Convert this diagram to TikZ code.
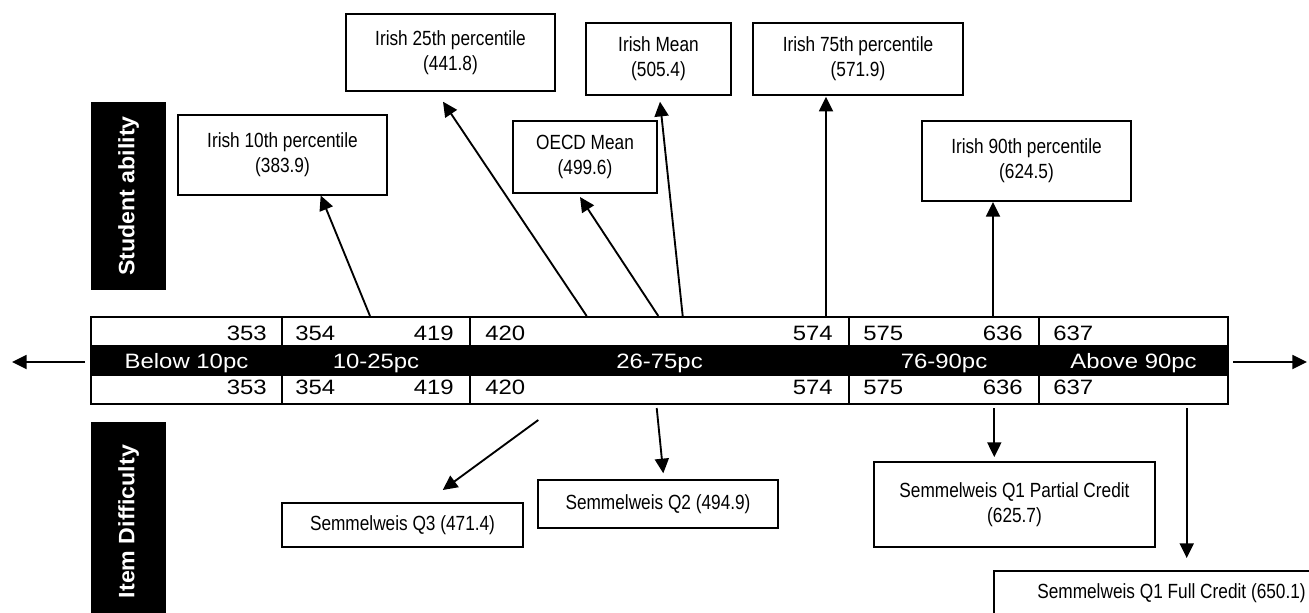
\documentclass[tikz,border=0pt]{standalone}
\usepackage{fontspec}
\setmainfont{Liberation Sans}
\newfontfamily\bandfont[FakeStretch=1.15]{Liberation Sans}
\newfontfamily\boxfont[FakeStretch=0.84]{Liberation Sans}
\newfontfamily\sidefont[FakeStretch=1.04]{Liberation Sans}
\usetikzlibrary{arrows.meta}
\begin{document}
\begin{tikzpicture}[x=0.75pt,y=-0.75pt,
  box/.style={draw, line width=1.4pt, inner sep=0pt, align=center,
    font=\boxfont\fontsize{15.4pt}{18.5pt}\selectfont},
  boxtext/.style={inner sep=0pt, align=center, anchor=base,
    font=\boxfont\fontsize{15.4pt}{18.5pt}\selectfont},
  num/.style={inner sep=0pt, font=\bandfont\fontsize{15.6pt}{18pt}\selectfont},
  lab/.style={inner sep=0pt, anchor=base, text=white,
    font=\bandfont\fontsize{15.6pt}{18pt}\selectfont},
  side/.style={fill=black, inner sep=0pt, text=white, rotate=90,
    font=\sidefont\bfseries\fontsize{16.7pt}{20pt}\selectfont},
  arr/.style={line width=1.4pt, -{Triangle[length=11pt,width=10.5pt]}},
  frame/.style={line width=1.6pt}]
\clip (0,0) rectangle (1309,612);
\fill[white] (0,0) rectangle (1309,612);

% side labels
\node[side, minimum width=141pt, minimum height=56.25pt] (sa) at (128.5,196) {Student ability};
\node[side, minimum width=149.25pt, minimum height=56.25pt] (id) at (128.5,521.5) {Item Difficulty};

% band
\fill[black] (91,345) rectangle (1228,376);
\draw[frame] (91,317) rectangle (1228,404);
\foreach \xx in {282,470,849,1039} {
  \draw[frame] (\xx,317) -- (\xx,345);
  \draw[frame] (\xx,376) -- (\xx,404);
}
% top row numbers
\node[num, anchor=base east] (t353) at (267,340.7) {353};
\node[num, anchor=base west] (t354) at (295,340.7) {354};
\node[num, anchor=base east] (t419) at (454,340.7) {419};
\node[num, anchor=base west] (t420) at (485,340.7) {420};
\node[num, anchor=base east] (t574) at (833,340.7) {574};
\node[num, anchor=base west] (t575) at (863,340.7) {575};
\node[num, anchor=base east] (t636) at (1023,340.7) {636};
\node[num, anchor=base west] (t637) at (1053,340.7) {637};
% bottom row numbers
\node[num, anchor=base east] (b353) at (267,394) {353};
\node[num, anchor=base west] (b354) at (295,394) {354};
\node[num, anchor=base east] (b419) at (454,394) {419};
\node[num, anchor=base west] (b420) at (485,394) {420};
\node[num, anchor=base east] (b574) at (833,394) {574};
\node[num, anchor=base west] (b575) at (863,394) {575};
\node[num, anchor=base east] (b636) at (1023,394) {636};
\node[num, anchor=base west] (b637) at (1053,394) {637};
% band labels
\node[lab] (l1) at (186.5,368) {Below 10pc};
\node[lab] (l2) at (376,368) {10-25pc};
\node[lab] (l3) at (659.5,368) {26-75pc};
\node[lab] (l4) at (944,368) {76-90pc};
\node[lab] (l5) at (1133.5,368) {Above 90pc};

% side arrows
\coordinate (la1) at (85,362); \coordinate (la2) at (12,362);
\coordinate (ra1) at (1233,362); \coordinate (ra2) at (1307,362);
\draw[arr] (la1) -- (la2);
\draw[arr] (ra1) -- (ra2);

% upper boxes
\node[box, minimum width=156.75pt, minimum height=60pt] (n10) at (282.5,155) {Irish 10th percentile\\(383.9)};
\node[box, minimum width=156.75pt, minimum height=57.75pt] (n25) at (450.5,52.5) {Irish 25th percentile\\(441.8)};
\node[box, minimum width=108.75pt, minimum height=54pt] (nmean) at (658.5,59) {Irish Mean\\(505.4)};
\node[box, minimum width=157.5pt, minimum height=54pt] (n75) at (858,59) {Irish 75th percentile\\(571.9)};
\node[box, minimum width=156.75pt, minimum height=60pt] (n90) at (1026.5,161) {Irish 90th percentile\\(624.5)};
\node[box, minimum width=108pt, minimum height=54pt] (noecd) at (585,157) {OECD Mean\\(499.6)};

% upper arrows
\coordinate (s10) at (370,316);   \coordinate (e10) at (320.7,195.5);
\coordinate (s25) at (586.7,316); \coordinate (e25) at (443,101.7);
\coordinate (so) at (658.3,316);  \coordinate (eo) at (580,197);
\coordinate (sm) at (682.7,316);  \coordinate (em) at (660,101.7);
\coordinate (s75) at (826,316);   \coordinate (e75) at (826,96.7);
\coordinate (s90) at (993,316);   \coordinate (e90) at (993,202);
\draw[arr] (s10) -- (e10);
\draw[arr] (s25) -- (e25);
\draw[arr] (so) -- (eo);
\draw[arr] (sm) -- (em);
\draw[arr] (s75) -- (e75);
\draw[arr] (s90) -- (e90);

% lower boxes
\node[box, minimum width=180.75pt, minimum height=33pt] (q3) at (402.5,525) {Semmelweis Q3 (471.4)};
\node[box, minimum width=180pt, minimum height=36pt] (q2) at (658,504) {Semmelweis Q2 (494.9)};
\node[box, minimum width=210.75pt, minimum height=63.75pt] (q1p) at (1014.5,504.5) {Semmelweis Q1 Partial Credit\\(625.7)};
\node[box, minimum width=266.25pt, minimum height=44.25pt] (q1f) at (1171.5,600.5) {};
\node[boxtext] (q1ft) at (1171.5,598) {Semmelweis Q1 Full Credit (650.1)};

% lower arrows
\coordinate (sq3) at (538.3,420);  \coordinate (eq3) at (442.7,490);
\coordinate (sq2) at (656.7,408);  \coordinate (eq2) at (663.3,473.3);
\coordinate (sq1p) at (994.3,408); \coordinate (eq1p) at (994.3,457);
\coordinate (sq1f) at (1186.7,408);\coordinate (eq1f) at (1186.7,558);
\draw[arr] (sq3) -- (eq3);
\draw[arr] (sq2) -- (eq2);
\draw[arr] (sq1p) -- (eq1p);
\draw[arr] (sq1f) -- (eq1f);
\end{tikzpicture}
\end{document}
